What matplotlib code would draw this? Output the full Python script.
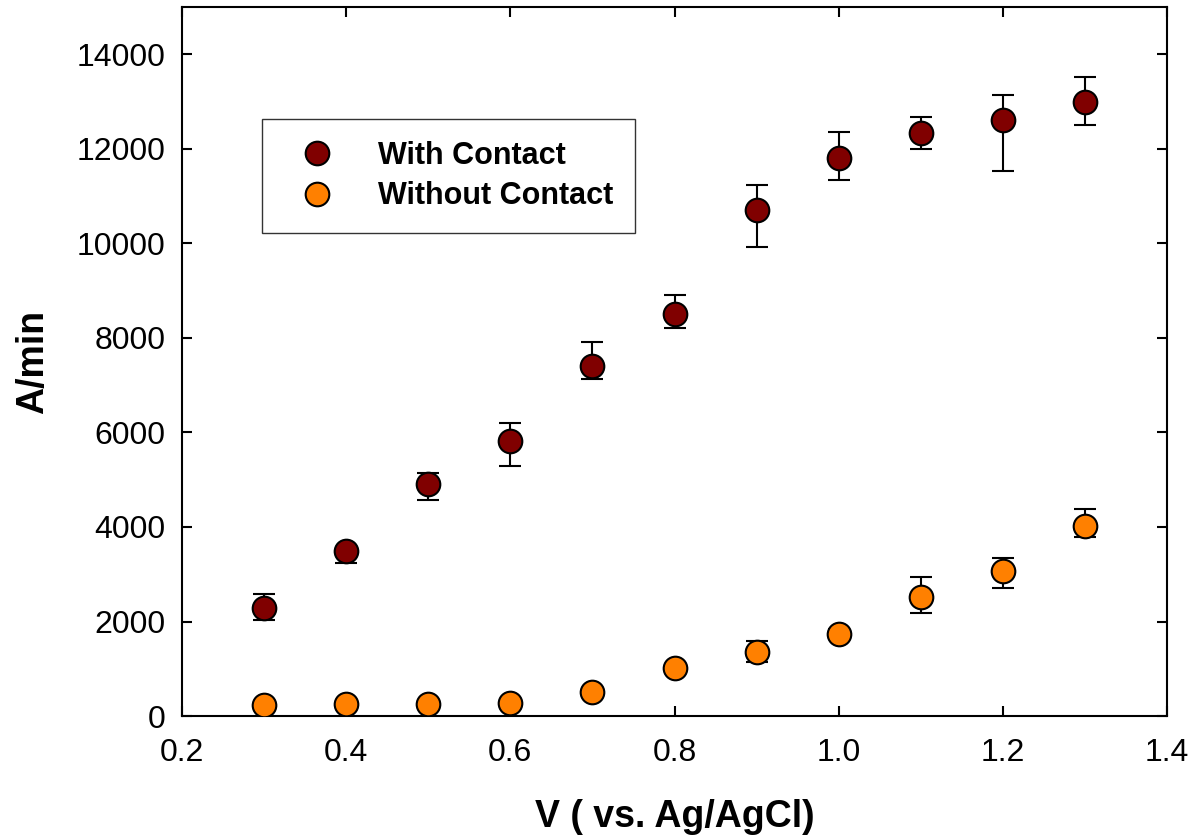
import numpy as np
import matplotlib
matplotlib.use('Agg')
import matplotlib.pyplot as plt

plt.rcParams['font.family'] = ['Liberation Sans', 'DejaVu Sans']

# voltage (V vs. Ag/AgCl)
volts = [0.3, 0.4, 0.5, 0.6, 0.7, 0.8, 0.9, 1.0, 1.1, 1.2, 1.3]

# with contact
with_y = [2280, 3495, 4910, 5825, 7410, 8500, 10710, 11800, 12330, 12620, 13000]
with_lo = [250, 250, 330, 530, 280, 300, 780, 450, 340, 1090, 490]
with_hi = [300, 50, 240, 380, 510, 400, 520, 550, 340, 530, 530]

# without contact
wo_y = [235, 255, 255, 282, 515, 1010, 1362, 1737, 2527, 3065, 4030]
wo_lo = [30, 30, 30, 30, 40, 60, 225, 100, 340, 360, 245]
wo_hi = [30, 30, 30, 30, 40, 60, 225, 100, 420, 280, 355]

fig = plt.figure(figsize=(11.95, 8.36), dpi=100)
ax = fig.add_axes([0.1523, 0.1435, 0.8243, 0.848])

# error bars first, markers on top
ax.errorbar(volts, with_y, yerr=[with_lo, with_hi], fmt='none', ecolor='black',
            elinewidth=1.5, capsize=8, capthick=1.5, zorder=2)
ax.errorbar(volts, wo_y, yerr=[wo_lo, wo_hi], fmt='none', ecolor='black',
            elinewidth=1.5, capsize=8, capthick=1.5, zorder=2)
ax.plot(volts, with_y, 'o', markersize=17, markerfacecolor='#800000',
        markeredgecolor='black', markeredgewidth=1.5, label='With Contact', zorder=3)
ax.plot(volts, wo_y, 'o', markersize=17, markerfacecolor='#FF8000',
        markeredgecolor='black', markeredgewidth=1.5, label='Without Contact', zorder=3)

ax.set_xlim(0.2, 1.4)
ax.set_ylim(0, 15000)
ax.set_xticks(np.arange(0.2, 1.41, 0.2))
ax.set_xticklabels(['0.2', '0.4', '0.6', '0.8', '1.0', '1.2', '1.4'])
ax.set_yticks(np.arange(0, 14001, 2000))

ax.tick_params(direction='in', length=7, width=1.5, top=True, right=True,
               labelsize=23)
ax.tick_params(axis='x', pad=16)
ax.tick_params(axis='y', pad=12)
for s in ax.spines.values():
    s.set_linewidth(1.5)

ax.set_xlabel('V ( vs. Ag/AgCl)', fontsize=27, fontweight='bold', labelpad=22)
ax.set_ylabel('A/min', fontsize=27, fontweight='bold', labelpad=18)

leg = ax.legend(loc='upper left', bbox_to_anchor=(0.081, 0.842),
                borderaxespad=0, fancybox=False, frameon=True,
                prop={'size': 22, 'weight': 'bold'}, handletextpad=0.9,
                borderpad=0.7, labelspacing=0.35, handlelength=2.2)
leg.get_frame().set_edgecolor('black')
leg.get_frame().set_linewidth(1.0)

plt.savefig('out.png', dpi=100)
